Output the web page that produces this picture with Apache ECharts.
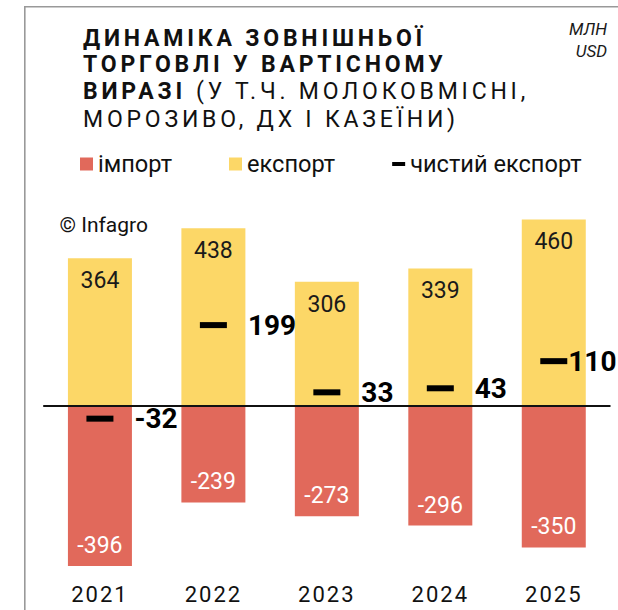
<!DOCTYPE html>
<html>
<head>
<meta charset="utf-8">
<title>Динаміка зовнішньої торгівлі</title>
<script src="https://cdn.jsdelivr.net/npm/echarts@6.0.0/dist/echarts.min.js"></script>
<style>
  html, body { margin: 0; padding: 0; background: #fff; }
  #chart { width: 618px; height: 610px; }
  /* розрядка для заголовка та підписів років (svg-рендер) */
  #chart text[style*="ls3"], #chart text[font-family*="ls3"] { letter-spacing: 3.8px; }
  #chart text[style*="ls2"], #chart text[font-family*="ls2"] { letter-spacing: 2px; }
</style>
</head>
<body>
<div id="chart"></div>
<script>
// дані, млн USD
const years = ['2021', '2022', '2023', '2024', '2025']
const importVals = [-396, -239, -273, -296, -350]
const exportVals = [364, 438, 306, 339, 460]
const netVals = [-32, 199, 33, 43, 110]

const RED = '#E1695B'
const YELLOW = '#FCD767'

const chart = echarts.init(document.getElementById('chart'), null, { renderer: 'svg' })

// останній підпис притиснутий до маркера, щоб не вилазив за край
const netData = netVals.map((v, i) =>
  i === netVals.length - 1 ? { value: v, label: { distance: 1 } } : v
)

const option = {
  backgroundColor: '#fff',
  animation: false,
  textStyle: { fontFamily: 'Roboto' },
  grid: { left: 43.2, right: 7.5, top: 211.3, bottom: 26.1 },
  legend: {
    left: 80,
    top: 152,
    padding: 0,
    itemWidth: 13,
    itemHeight: 13,
    itemGap: 57,
    selectedMode: false,
    textStyle: { fontSize: 23.6, color: '#111', fontFamily: 'Roboto' },
    data: [
      { name: 'імпорт', icon: 'rect' },
      { name: 'експорт', icon: 'rect' },
      { name: 'чистий експорт', icon: 'path://M0,0M13,13M0,4.5H13V8.5H0Z' }
    ]
  },
  xAxis: {
    type: 'category',
    data: years,
    axisLine: { show: false, onZero: false },
    axisTick: { show: false },
    axisLabel: { fontSize: 22, color: '#111', margin: 0, fontFamily: 'Roboto, ls2' }
  },
  yAxis: {
    type: 'value',
    min: -440,
    max: 480,
    show: false
  },
  series: [
    {
      name: 'імпорт',
      type: 'bar',
      stack: 'trade',
      barWidth: 64,
      itemStyle: { color: RED },
      label: {
        show: true,
        position: 'insideBottom',
        distance: 9,
        fontSize: 23,
        color: '#fff'
      },
      emphasis: { disabled: true },
      data: importVals
    },
    {
      name: 'експорт',
      type: 'bar',
      stack: 'trade',
      barWidth: 64,
      itemStyle: { color: YELLOW },
      label: {
        show: true,
        position: 'insideTop',
        distance: 11,
        fontSize: 23,
        color: '#1a1a1a'
      },
      emphasis: { disabled: true },
      markLine: {
        silent: true,
        symbol: 'none',
        label: { show: false },
        lineStyle: { color: '#111', width: 2, type: 'solid' },
        data: [{ yAxis: 0 }]
      },
      data: exportVals
    },
    {
      name: 'чистий експорт',
      type: 'scatter',
      symbol: 'rect',
      symbolSize: [27, 6],
      z: 5,
      itemStyle: { color: '#000', opacity: 1 },
      label: {
        show: true,
        position: 'right',
        distance: 21,
        fontSize: 28,
        fontWeight: 'bold',
        color: '#000',
        opacity: 1
      },
      emphasis: { disabled: true },
      data: netData
    }
  ],
  graphic: [
    {
      type: 'polyline',
      silent: true,
      shape: { points: [[24.8, 610], [24.8, 6.7], [618, 6.7]] },
      style: { stroke: '#999', lineWidth: 1.6, fill: null }
    },
    {
      type: 'text', style: {
        text: 'ДИНАМІКА ЗОВНІШНЬОЇ', x: 83, y: 38.5,
        font: 'bold 23px Roboto, ls3', fill: '#111', verticalAlign: 'middle'
      }
    },
    {
      type: 'text', style: {
        text: 'ТОРГОВЛІ У ВАРТІСНОМУ', x: 83, y: 64,
        font: 'bold 23px Roboto, ls3', fill: '#111', verticalAlign: 'middle'
      }
    },
    {
      type: 'text', style: {
        text: 'ВИРАЗІ', x: 83, y: 91,
        font: 'bold 23px Roboto, ls3', fill: '#111', verticalAlign: 'middle'
      }
    },
    {
      type: 'text', style: {
        text: '(У Т.Ч. МОЛОКОВМІСНІ,', x: 196, y: 91,
        font: '23px Roboto, ls3', fill: '#111', verticalAlign: 'middle'
      }
    },
    {
      type: 'text', style: {
        text: 'МОРОЗИВО, ДХ І КАЗЕЇНИ)', x: 83, y: 119,
        font: '23px Roboto, ls3', fill: '#111', verticalAlign: 'middle'
      }
    },
    {
      type: 'text', style: {
        text: 'МЛН', x: 607, y: 28.5,
        font: 'italic 17px Roboto', fill: '#1a1a1a', align: 'right', verticalAlign: 'middle'
      }
    },
    {
      type: 'text', style: {
        text: 'USD', x: 607, y: 50.5,
        font: 'italic 17px Roboto', fill: '#1a1a1a', align: 'right', verticalAlign: 'middle'
      }
    },
    {
      type: 'text', style: {
        text: '© Infagro', x: 59.5, y: 225,
        font: '21px Roboto', fill: '#111', verticalAlign: 'middle'
      }
    }
  ]
}

chart.setOption(option)
</script>
</body>
</html>
